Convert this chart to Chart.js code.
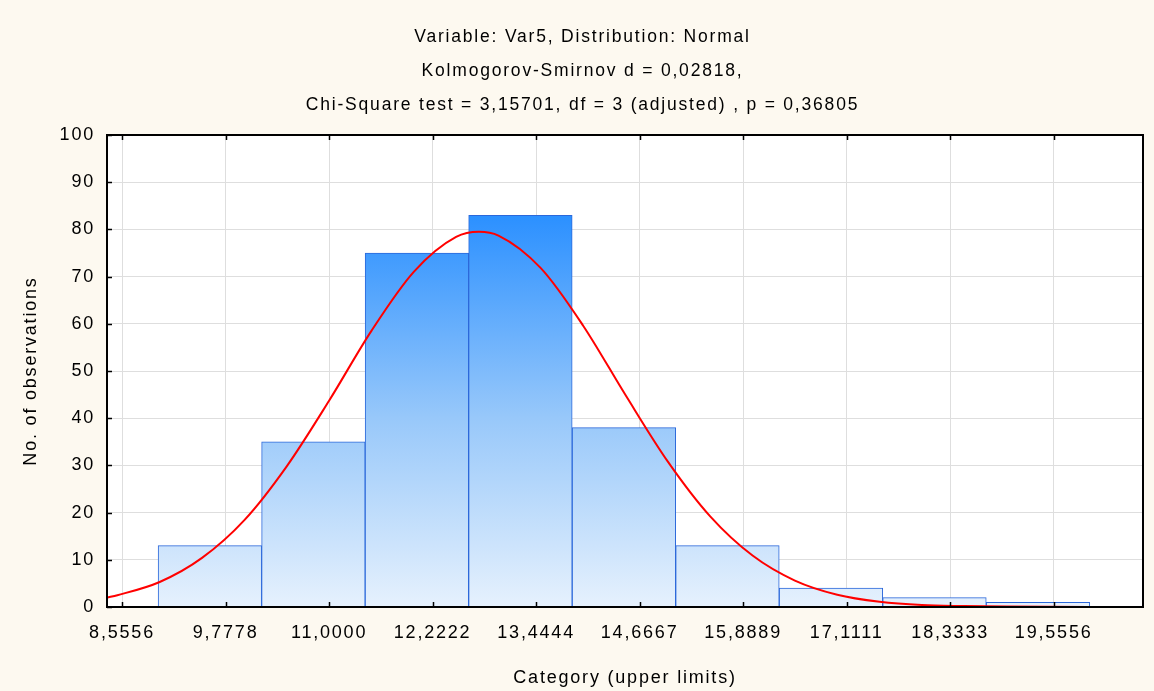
<!DOCTYPE html>
<html>
<head>
<meta charset="utf-8">
<script src="https://cdn.jsdelivr.net/npm/chart.js@4/dist/chart.umd.min.js"></script>
<style>
  html, body { margin: 0; padding: 0; background: #FDF9F0; }
  #wrap { width: 1154px; height: 691px; }
</style>
</head>
<body>
<div id="wrap"><canvas id="myChart" width="1154" height="691"></canvas></div>
<script>
// ticks of the x axis (category upper limits)
var tickValues = [8.5556, 9.7778, 11.0000, 12.2222, 13.4444, 14.6667, 15.8889, 17.1111, 18.3333, 19.5556];
var tickLabels = ['8,5556', '9,7778', '11,0000', '12,2222', '13,4444', '14,6667', '15,8889', '17,1111', '18,3333', '19,5556'];

// histogram bins (lower / upper edge) and counts
var binLower = [8.9815, 10.2037, 11.4259, 12.6481, 13.8704, 15.0926, 16.3148, 17.5370, 18.7593];
var binUpper = [10.2037, 11.4259, 12.6481, 13.8704, 15.0926, 16.3148, 17.5370, 18.7593, 19.9815];
var counts = [13, 35, 75, 83, 38, 13, 4, 2, 1];

// fitted normal curve
var curveX = [8.38, 8.5, 9.0, 9.5, 10.0, 10.5, 11.0, 11.5, 12.0, 12.5, 12.77, 13.0, 13.5, 14.0, 14.5, 15.0, 15.5, 16.0, 16.5, 17.0, 17.5, 18.0, 18.5, 19.0, 20.0, 20.61];
var curveY = [2.0, 2.5, 5.3, 10.4, 18.4, 29.8, 43.7, 58.5, 71.0, 78.4, 79.5, 78.7, 71.8, 59.6, 44.9, 30.8, 19.2, 10.9, 5.6, 2.6, 1.1, 0.4, 0.2, 0.1, 0.0, 0.0];

var titleLines = [
    'Variable: Var5, Distribution: Normal',
    'Kolmogorov-Smirnov d = 0,02818,',
    'Chi-Square test = 3,15701, df = 3 (adjusted) , p = 0,36805'
];

var fontName = "'Liberation Sans', Arial, sans-serif";

var barData = [];
counts.forEach(function (c, i) {
    barData.push({ x: (binLower[i] + binUpper[i]) / 2, y: c });
});
var curveData = [];
curveX.forEach(function (x, i) {
    curveData.push({ x: x, y: curveY[i] });
});

function barGradient(context) {
    var chart = context.chart;
    var area = chart.chartArea;
    if (!area) return '#9CCBFB';
    var g = chart.ctx.createLinearGradient(0, area.bottom, 0, area.top);
    g.addColorStop(0, '#E6F1FD');
    g.addColorStop(0.4, '#98C8FA');
    g.addColorStop(0.83, '#2B90FF');
    g.addColorStop(1, '#1A84FF');
    return g;
}

// cream page, white plot area, black frame with inward ticks
var framePlugin = {
    id: 'frame',
    afterLayout: function (chart) {
        // title sits a little right of the canvas centre
        chart.titleBlock.left = 22;
        chart.titleBlock.right = 1143;
    },
    beforeDraw: function (chart) {
        var ctx = chart.ctx;
        var a = chart.chartArea;
        ctx.save();
        ctx.fillStyle = '#FDF9F0';
        ctx.fillRect(0, 0, chart.width, chart.height);
        ctx.fillStyle = '#FFFFFF';
        ctx.fillRect(a.left, a.top, a.right - a.left, a.bottom - a.top);
        ctx.restore();
        ctx.letterSpacing = '1.8px'; // the original text is drawn wide
    },
    afterDraw: function (chart) {
        var ctx = chart.ctx;
        var a = chart.chartArea;
        ctx.save();
        ctx.strokeStyle = '#000000';
        ctx.lineWidth = 1.5;
        ctx.beginPath();
        chart.scales.x.ticks.forEach(function (t) {
            var px = Math.round(chart.scales.x.getPixelForValue(t.value)) + 0.5;
            ctx.moveTo(px, a.bottom); ctx.lineTo(px, a.bottom - 5);
            ctx.moveTo(px, a.top); ctx.lineTo(px, a.top + 5);
        });
        chart.scales.y.ticks.forEach(function (t) {
            var py = Math.round(chart.scales.y.getPixelForValue(t.value)) + 0.5;
            ctx.moveTo(a.left, py); ctx.lineTo(a.left + 5, py);
        });
        ctx.stroke();
        ctx.lineWidth = 2;
        ctx.strokeRect(a.left, a.top, a.right - a.left, a.bottom - a.top);
        ctx.restore();
    }
};

var ctx = document.getElementById('myChart');
var myChart = new Chart(ctx, {
    data: {
        datasets: [{
            type: 'line',
            data: curveData,
            borderColor: '#FF0000',
            borderWidth: 2,
            pointRadius: 0,
            cubicInterpolationMode: 'monotone',
            order: 0
        }, {
            type: 'bar',
            data: barData,
            backgroundColor: barGradient,
            borderColor: '#2B68DA',
            borderWidth: 1,
            barPercentage: 1,
            categoryPercentage: 1,
            order: 1
        }]
    },
    options: {
        responsive: false,
        animation: false,
        layout: { padding: { left: 0, right: 11, top: 0, bottom: 0 } },
        plugins: {
            legend: { display: false },
            tooltip: { enabled: false },
            title: {
                display: true,
                text: titleLines,
                color: '#000000',
                font: { family: fontName, size: 17.5, weight: 'normal', lineHeight: 34 / 17.5 },
                padding: { top: 20, bottom: 13 }
            }
        },
        scales: {
            x: {
                type: 'linear',
                min: 8.378,
                max: 20.61,
                offset: false,
                afterBuildTicks: function (scale) {
                    scale.ticks = tickValues.map(function (v) { return { value: v }; });
                },
                afterFit: function (scale) { scale.height = 84; },
                grid: { color: '#DEDEDE', lineWidth: 1, drawTicks: false, offset: false },
                border: { display: false },
                ticks: {
                    autoSkip: false,
                    maxRotation: 0,
                    padding: 15,
                    color: '#000000',
                    font: { family: fontName, size: 18 },
                    callback: function (value, index) { return tickLabels[index]; }
                },
                title: {
                    display: true,
                    text: 'Category (upper limits)',
                    color: '#000000',
                    font: { family: fontName, size: 18 },
                    padding: { top: 0, bottom: 2 }
                }
            },
            y: {
                min: 0,
                max: 100,
                afterFit: function (scale) { scale.width = 107; },
                grid: { color: '#DEDEDE', lineWidth: 1, drawTicks: false },
                border: { display: false },
                ticks: {
                    stepSize: 10,
                    padding: 12,
                    color: '#000000',
                    font: { family: fontName, size: 18 }
                },
                title: {
                    display: true,
                    text: 'No. of observations',
                    color: '#000000',
                    font: { family: fontName, size: 18 },
                    padding: { top: 20, bottom: 0 }
                }
            }
        }
    },
    plugins: [framePlugin]
});
</script>
</body>
</html>
